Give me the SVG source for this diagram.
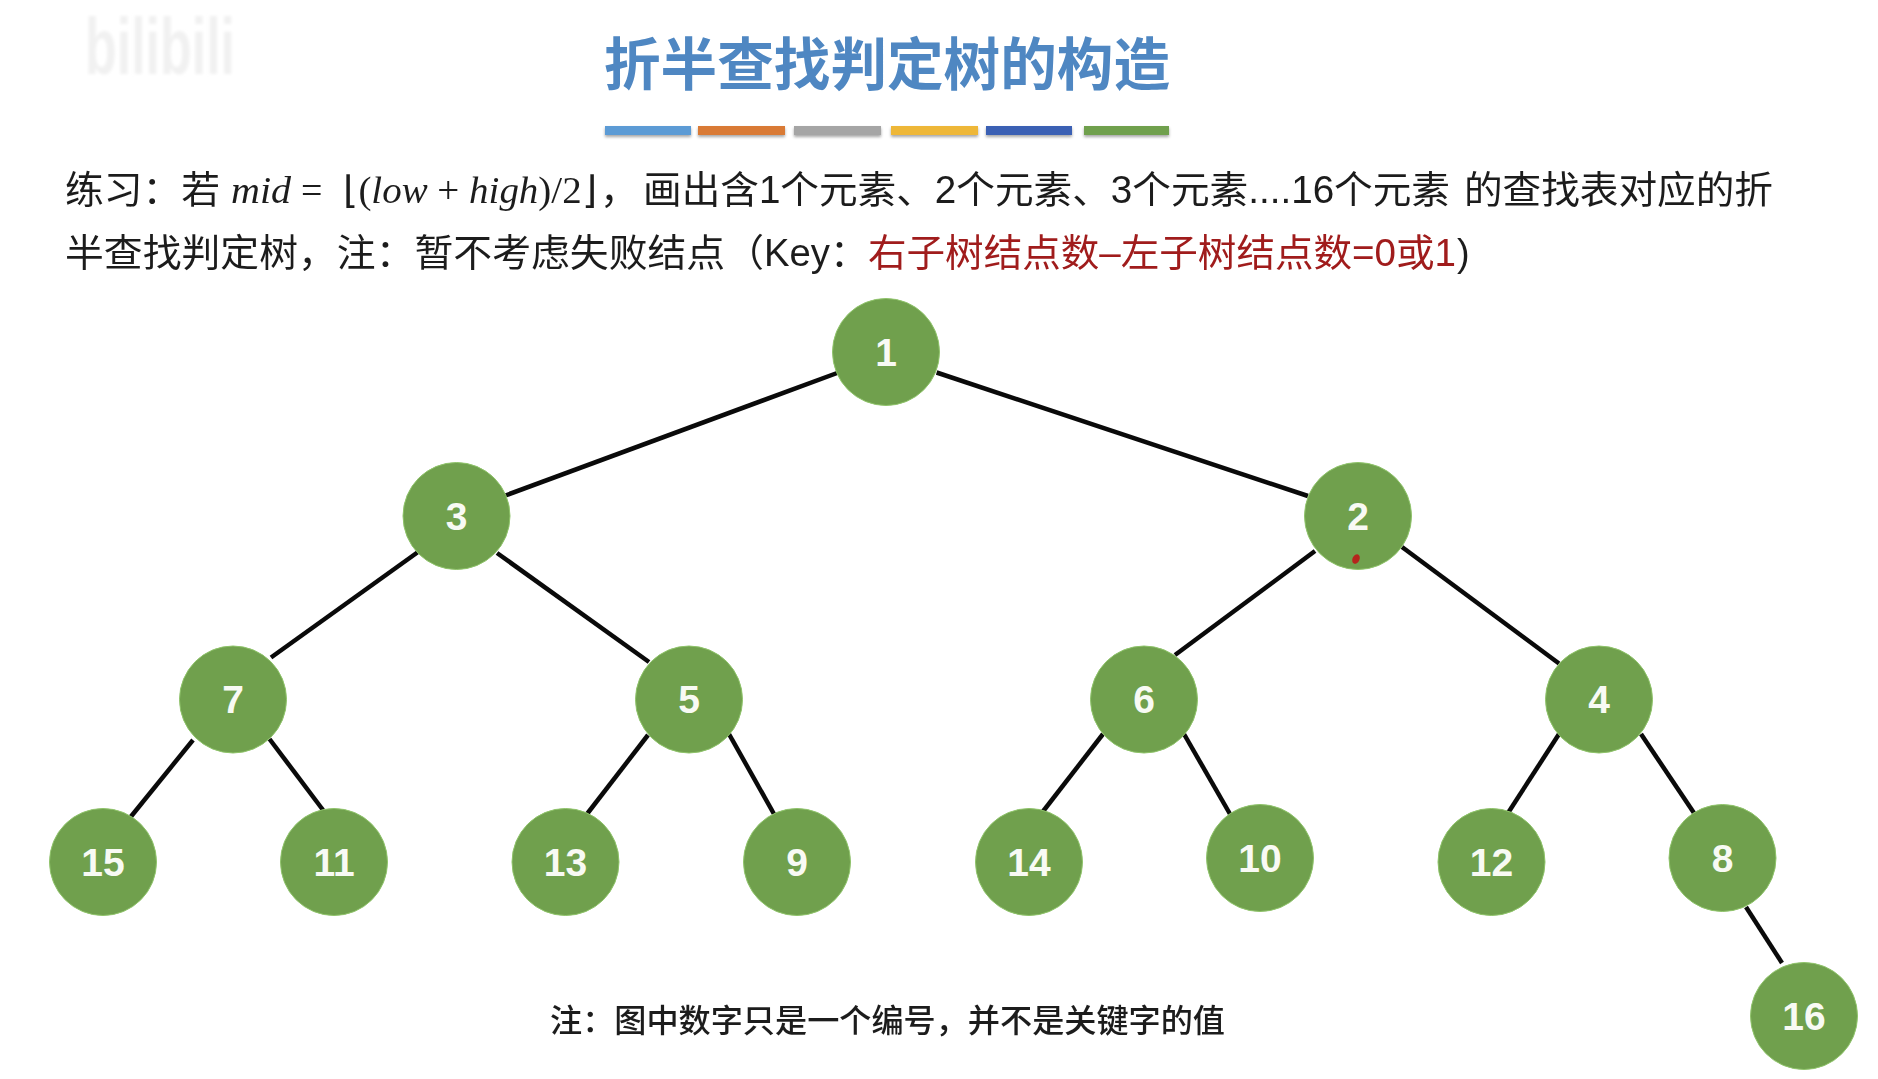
<svg xmlns="http://www.w3.org/2000/svg" width="1878" height="1079" viewBox="0 0 1878 1079">
<defs>
<filter id="soft" x="-5%" y="-5%" width="110%" height="110%"><feGaussianBlur stdDeviation="0.6"/></filter>
<filter id="faint" x="-10%" y="-10%" width="120%" height="120%"><feGaussianBlur stdDeviation="1.5"/></filter>
<filter id="barshadow" x="-10%" y="-50%" width="120%" height="250%"><feDropShadow dx="0" dy="2" stdDeviation="1.5" flood-color="#000" flood-opacity="0.35"/></filter>
</defs>
<style>
.cn{font-family:"Liberation Sans","Noto Sans CJK SC",sans-serif;font-size:38px;fill:#1c1c1c}
.red{fill:#a01c1c}
.math{font-family:"Liberation Serif",serif;font-size:38px;fill:#1c1c1c}
.it{font-style:italic}
.title{font-family:"Noto Sans CJK SC",sans-serif;font-size:57px;font-weight:700;fill:#4f87c2}
.foot{font-family:"Noto Sans CJK SC",sans-serif;font-size:32px;font-weight:500;fill:#1c1c1c}
.node circle{fill:#70a04d;stroke:#8fc46a;stroke-width:1}
.node text{font-family:"Liberation Sans",sans-serif;font-size:39px;font-weight:700;fill:#f8faf4;text-anchor:middle}
#edges line{stroke:#0a0a0a;stroke-width:4.500;stroke-linecap:butt}
</style>
<rect width="1878" height="1079" fill="#fff"/>
<g id="watermark" filter="url(#faint)">
<text x="85" y="74" font-family="Liberation Sans,sans-serif" font-size="80" font-weight="700" fill="#f1f1f1" textLength="150" lengthAdjust="spacingAndGlyphs">bilibili</text>
</g>
<g id="title" filter="url(#soft)">
<text class="title" x="887" y="85" text-anchor="middle" textLength="566" lengthAdjust="spacingAndGlyphs">折半查找判定树的构造</text>
</g>
<g id="bars" filter="url(#barshadow)">
<rect x="605" y="126" width="86" height="9" fill="#5b9bd5"/>
<rect x="698" y="126" width="87" height="9" fill="#d97a36"/>
<rect x="794" y="126" width="87" height="9" fill="#a5a5a5"/>
<rect x="891" y="126" width="87" height="9" fill="#eeb737"/>
<rect x="986" y="126" width="86" height="9" fill="#3a60b4"/>
<rect x="1084" y="126" width="85" height="9" fill="#70a04d"/>
</g>
<g id="text" filter="url(#soft)">
<text class="cn" x="65" y="203" textLength="155" lengthAdjust="spacingAndGlyphs">练习：若</text>
<text class="math it" x="231" y="203" textLength="60" lengthAdjust="spacingAndGlyphs">mid</text>
<text class="math" x="301" y="203" font-size="40">=</text>
<text class="math" x="343" y="203" textLength="254" lengthAdjust="spacingAndGlyphs"><tspan>⌊(</tspan><tspan class="it">low</tspan><tspan> + </tspan><tspan class="it">high</tspan><tspan>)/2⌋</tspan></text>
<text class="cn" x="600" y="203">，</text>
<text class="cn" x="643" y="203" textLength="807" lengthAdjust="spacingAndGlyphs">画出含1个元素、2个元素、3个元素....16个元素</text>
<text class="cn" x="1464" y="203" textLength="309" lengthAdjust="spacingAndGlyphs">的查找表对应的折</text>
<text class="cn" x="65" y="266" textLength="699" lengthAdjust="spacingAndGlyphs">半查找判定树，注：暂不考虑失败结点（</text>
<text class="cn" x="764" y="266" textLength="66" lengthAdjust="spacingAndGlyphs">Key</text>
<text class="cn" x="830" y="266">：</text>
<text class="cn red" x="868" y="266" textLength="588" lengthAdjust="spacingAndGlyphs">右子树结点数–左子树结点数=0或1</text>
<text class="cn" x="1457" y="266">)</text>
<text class="foot" x="550" y="1032" textLength="675" lengthAdjust="spacingAndGlyphs">注：图中数字只是一个编号，并不是关键字的值</text>
</g>
<g id="edges">
<line x1="838.5" y1="372.5" x2="504" y2="496"/>
<line x1="936.6" y1="372.5" x2="1308" y2="496"/>
<line x1="418" y1="552" x2="271" y2="657.5"/>
<line x1="497" y1="553" x2="649" y2="662"/>
<line x1="1315" y1="551" x2="1175" y2="655"/>
<line x1="1402" y1="547" x2="1559" y2="663.5"/>
<line x1="193" y1="740" x2="129" y2="819"/>
<line x1="269.5" y1="739" x2="323" y2="810"/>
<line x1="648" y1="735" x2="587" y2="814"/>
<line x1="729" y1="734" x2="774" y2="814"/>
<line x1="1103" y1="734" x2="1041" y2="814"/>
<line x1="1184" y1="734" x2="1230" y2="814"/>
<line x1="1559" y1="734" x2="1508" y2="813"/>
<line x1="1641" y1="734" x2="1694" y2="813"/>
<line x1="1746" y1="907" x2="1782" y2="963"/>
</g>
<g id="n1" class="node"><circle cx="886" cy="352" r="53.5"/><text x="886" y="366">1</text></g>
<g id="n3" class="node"><circle cx="456.500" cy="516" r="53.5"/><text x="456.500" y="530">3</text></g>
<g id="n2" class="node"><circle cx="1358" cy="516" r="53.5"/><text x="1358" y="530">2</text><ellipse cx="1356" cy="559" rx="3.500" ry="5" transform="rotate(25 1356 559)" fill="#b5251c"/></g>
<g id="n7" class="node"><circle cx="233" cy="699.500" r="53.5"/><text x="233" y="713">7</text></g>
<g id="n5" class="node"><circle cx="689" cy="699.500" r="53.5"/><text x="689" y="713">5</text></g>
<g id="n6" class="node"><circle cx="1144" cy="699.500" r="53.5"/><text x="1144" y="713">6</text></g>
<g id="n4" class="node"><circle cx="1599" cy="699.500" r="53.5"/><text x="1599" y="713">4</text></g>
<g id="n15" class="node"><circle cx="103" cy="862" r="53.5"/><text x="103" y="876">15</text></g>
<g id="n11" class="node"><circle cx="334" cy="862" r="53.5"/><text x="334" y="876">11</text></g>
<g id="n13" class="node"><circle cx="565.500" cy="862" r="53.5"/><text x="565.500" y="876">13</text></g>
<g id="n9" class="node"><circle cx="797" cy="862" r="53.5"/><text x="797" y="876">9</text></g>
<g id="n14" class="node"><circle cx="1029" cy="862" r="53.5"/><text x="1029" y="876">14</text></g>
<g id="n10" class="node"><circle cx="1260" cy="858" r="53.5"/><text x="1260" y="872">10</text></g>
<g id="n12" class="node"><circle cx="1491.500" cy="862" r="53.5"/><text x="1491.500" y="876">12</text></g>
<g id="n8" class="node"><circle cx="1722.500" cy="858" r="53.5"/><text x="1722.500" y="872">8</text></g>
<g id="n16" class="node"><circle cx="1804" cy="1016" r="53.5"/><text x="1804" y="1030">16</text></g>
</svg>
